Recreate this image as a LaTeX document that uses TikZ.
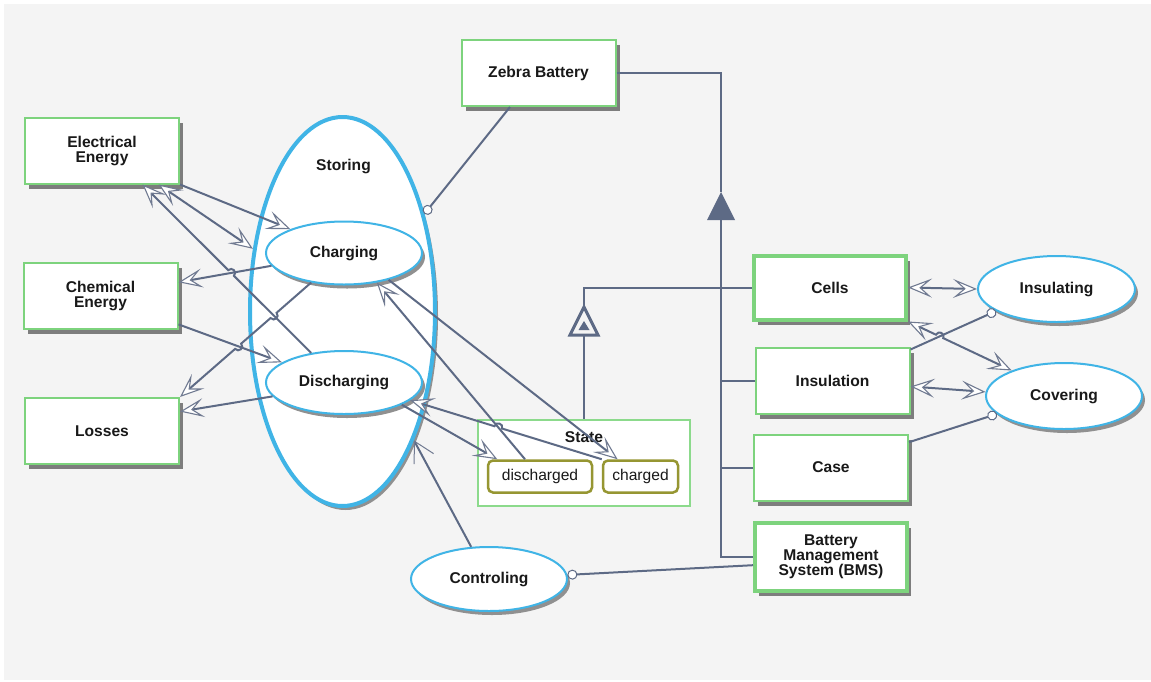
\documentclass[tikz,border=0pt]{standalone}
\usepackage{fontspec}
\setmainfont{Liberation Sans}
\usetikzlibrary{shapes.geometric,arrows.meta,shadows,calc}

\definecolor{bgcol}{RGB}{244,244,244}
\definecolor{boxgreen}{RGB}{125,211,125}
\definecolor{procblue}{RGB}{64,180,230}
\definecolor{linkcol}{RGB}{93,106,133}
\definecolor{tipcol}{RGB}{112,122,145}
\definecolor{shadowgray}{RGB}{125,125,125}
\definecolor{valolive}{RGB}{150,150,50}
\definecolor{stateframe}{RGB}{140,218,140}
\definecolor{txt}{RGB}{25,25,25}

\tikzset{
  opmring/.tip={Circle[length=10pt,line width=1pt,color=linkcol,fill=white]},
  barbtip/.tip={Straight Barb[length=20pt,width=22pt,line width=1pt,color=tipcol]},
}

\begin{document}
\begin{tikzpicture}[x=1pt,y=-1pt,
  >={Stealth[length=24pt,width=19pt,inset=11pt,line width=1.1pt,color=tipcol,fill=white]},
  every node/.style={text=txt,inner sep=0pt},
  lbl/.style={font=\fontsize{15.6}{15}\selectfont\bfseries,align=center},
  object/.style={lbl,rectangle,draw=boxgreen,line width=2pt,fill=white,
    minimum width=154pt,minimum height=66pt,
    general shadow={fill=shadowgray,shadow xshift=4pt,shadow yshift=-5pt}},
  thickobj/.style={object,line width=4pt,minimum width=152pt,minimum height=64pt},
  process/.style={lbl,ellipse,draw=procblue,line width=2pt,fill=white,
    general shadow={fill=shadowgray!85,shadow xshift=3pt,shadow yshift=-4pt}},
  stateframe/.style={rectangle,draw=stateframe,line width=1.5pt,fill=white,
    minimum width=212pt,minimum height=86pt},
  statevalue/.style={rectangle,rounded corners=5pt,draw=valolive,line width=2.5pt,fill=white,
    minimum height=32pt,font=\fontsize{15.6}{15}\selectfont},
  link/.style={draw=linkcol,line width=2pt},
  hop/.style={bend left=90,looseness=1.7},
  hopr/.style={bend right=90,looseness=1.7},
]
% canvas
\fill[white] (0,0) rectangle (1151,681);
\fill[bgcol] (4,4) rectangle (1151,680);
\useasboundingbox (0,0) rectangle (1151,681);

% main process with its subprocesses
\node[process,line width=4pt,minimum width=185pt,minimum height=389pt] (storing) at (342.5,311.5) {};
\node[lbl] (storinglbl) at (343.5,166) {Storing};
\node[process,minimum width=156pt,minimum height=63pt] (charging) at (344,253) {Charging};
\node[process,minimum width=156pt,minimum height=63pt] (discharging) at (344,382.5) {Discharging};

% objects on the left
\node[object] (ee) at (102,150.5) {Electrical\\Energy};
\node[object] (ce) at (100.5,296) {Chemical\\Energy};
\node[object] (loss) at (102,431) {Losses};

% system and its parts
\node[object] (zebra) at (538.5,73) {Zebra Battery};
\node[thickobj] (cells) at (830,287.5) {Cells};
\node[object] (insulation) at (832.5,381) {Insulation};
\node[object] (case) at (831,467.5) {Case};
\node[thickobj,minimum height=68pt] (bms) at (831,557) {Battery\\Management\\System (BMS)};

% state attribute
\node[stateframe] (state) at (584,463) {};
\node[lbl] (statelbl) at (584,437) {State};
\node[statevalue,minimum width=104pt] (discharged) at (540,476.5) {discharged};
\node[statevalue,minimum width=75pt] (charged) at (640.5,476.5) {charged};

% processes on the right and bottom
\node[process,minimum width=157pt,minimum height=66pt] (insulating) at (1056.5,289) {Insulating};
\node[process,minimum width=156pt,minimum height=66pt] (covering) at (1064,396) {Covering};
\node[process,minimum width=156pt,minimum height=64pt] (controling) at (489,579) {Controling};

% ---- structural links
\coordinate (gtip) at (721,192);
\coordinate (gbase) at (721,220);
\draw[link] (zebra.east) -| (gtip);
\fill[linkcol] (gtip) -- ++(-14,28) -- ++(28,0) -- cycle;
\draw[link] (gbase) |- (bms.west);
\draw[link] (insulation.west) -- (insulation.west -| gbase);
\draw[link] (case.west) -- (case.west -| gbase);
\coordinate (etip) at (584,307);
\coordinate (ebase) at (584,335);
\draw[link] (cells.west) -| (etip);
\draw[linkcol,line width=3pt,fill=bgcol,line join=miter] (etip) -- ++(-14,28) -- ++(28,0) -- cycle;
\fill[linkcol] (584,321) -- ++(-5.5,9) -- ++(11,0) -- cycle;
\draw[link] (ebase) -- (ebase |- state.north);

% ---- procedural links around Storing
\draw[link,-opmring] (zebra.230) -- (storing.50);
\draw[link,->] (ee.south east) -- (charging.156);
\draw[link,<->] (ee.-31) -- (storing.145);
\draw[link,->] (charging.190) -- (ce.10);
\draw[link,->] (ce.-20) -- (discharging.162);
\draw[link,->] (discharging.191) -- (loss.14);

\coordinate (h1) at (intersection cs: first line={(discharging.138)--(ee.-40)}, second line={(charging.190)--(ce.10)});
\draw[link,->] (discharging.138) -- ($(h1)!4pt!(discharging.138)$) to[hopr] ($(h1)!4pt!(ee.-40)$) -- (ee.-40);

\coordinate (h2) at (intersection cs: first line={(charging.222)--(loss.north east)}, second line={(discharging.138)--(ee.-40)});
\coordinate (h3) at (intersection cs: first line={(charging.222)--(loss.north east)}, second line={(ce.-20)--(discharging.162)});
\draw[link,->] (charging.222) -- ($(h2)!4pt!(charging.222)$) to[hop] ($(h2)!4pt!(loss.north east)$)
  -- ($(h3)!4pt!(charging.222)$) to[hop] ($(h3)!4pt!(loss.north east)$) -- (loss.north east);

% state changes
\draw[link,->] (discharged.131) -- (charging.-42);
\draw[link,->] (charging.-31) -- (charged.143);
\draw[link,->] (discharging.-21) -- (discharged.158);
\coordinate (h4) at (intersection cs: first line={(charged.north west)--(discharging.-15)}, second line={(discharged.131)--(charging.-42)});
\draw[link,->] (charged.north west) -- ($(h4)!4pt!(charged.north west)$) to[hopr] ($(h4)!4pt!(discharging.-15)$) -- (discharging.-15);

% control
\draw[link,-barbtip] (controling.119) -- (storing.-61);
\draw[link,opmring-] (controling.3) -- (bms.186);

% parts and their processes
\draw[link,<->] (cells.east) -- (insulating.west);
\draw[link,-opmring] (insulation.22) -- (insulating.200);
\coordinate (h5) at (intersection cs: first line={(cells.south east)--(covering.154)}, second line={(insulation.22)--(insulating.200)});
\draw[link,<->] (cells.south east) -- ($(h5)!4pt!(cells.south east)$) to[hop] ($(h5)!4pt!(covering.154)$) -- (covering.154);
\draw[link,<->] (insulation.-4) -- (covering.177);
\draw[link,-opmring] (case.18) -- (covering.195);
\end{tikzpicture}
\end{document}
